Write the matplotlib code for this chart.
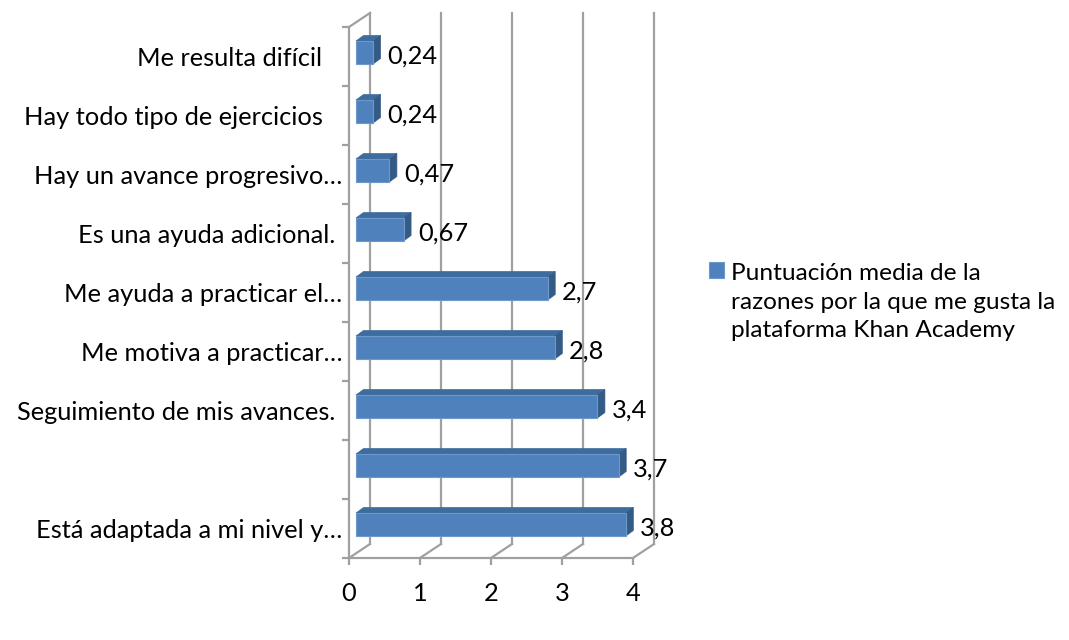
import matplotlib
matplotlib.use("Agg")
import matplotlib.pyplot as plt
from matplotlib.patches import Polygon
import numpy as np

# datos (de abajo hacia arriba)
categorias = [
    "Está adaptada a mi nivel y…",
    "",
    "Seguimiento de mis avances. ",
    "Me motiva a practicar…",
    "Me ayuda a practicar el…",
    "Es una ayuda adicional. ",
    "Hay un avance progresivo…",
    "Hay todo tipo de ejercicios   ",
    "Me resulta difícil   ",
]
valores = [3.8, 3.7, 3.4, 2.8, 2.7, 0.67, 0.47, 0.24, 0.24]
etiquetas = ["3,8", "3,7", "3,4", "2,8", "2,7", "0,67", "0,47", "0,24", "0,24"]
serie = "Puntuación media de la\nrazones por la que me gusta la\nplataforma Khan Academy"
xticks = [0, 1, 2, 3, 4]

plt.rcParams['font.family'] = ['Lato', 'DejaVu Sans']
fs = 18.3

W, H = 1069, 640
fig = plt.figure(figsize=(W / 100, H / 100), dpi=100)
ax = fig.add_axes([349 / W, 82 / H, 284 / W, 531 / H])
ax.set_xlim(0, 4)
ax.set_ylim(-0.5, 8.5)

px_x = 284 / 4.0   # pixeles por unidad
px_y = 531 / 9.0   # pixeles por categoria

# profundidad de las paredes y de las barras
DX, DY = 21 / px_x, 14 / px_y
bx0, by0 = 7 / px_x, 4 / px_y
bdx, bdy = 7.5 / px_x, 5.5 / px_y
alto = 23 / px_y

gris = '#A0A0A0'
lw = 1.6
ymin, ymax = -0.5, 8.5

# pared del fondo y suelo
for k in xticks:
    ax.plot([k + DX, k + DX], [ymin + DY, ymax + DY], color=gris, lw=lw, clip_on=False, zorder=1)
    ax.plot([k, k + DX], [ymin, ymin + DY], color=gris, lw=lw, clip_on=False, zorder=1)
ax.plot([0, 4], [ymin, ymin], color=gris, lw=lw, clip_on=False, zorder=1)
ax.plot([0, 0], [ymin, ymax], color=gris, lw=lw, clip_on=False, zorder=1)
ax.plot([0, DX], [ymax, ymax + DY], color=gris, lw=lw, clip_on=False, zorder=1)

# barras
ypos = np.arange(len(valores))
frente = '#4F81BD'
arriba = '#3F6C9F'
lado = '#345A86'
barras = ax.barh(ypos + by0, valores, left=bx0, height=alto, color=frente,
                 edgecolor='#6C98CC', linewidth=0.8, zorder=3,
                 label=serie, clip_on=False)
for y, v in zip(ypos, valores):
    x1 = bx0 + v
    yb = y + by0 - alto / 2
    yt = y + by0 + alto / 2
    tapa = Polygon([(bx0, yt), (x1, yt), (x1 + bdx, yt + bdy), (bx0 + bdx, yt + bdy)],
                   closed=True, facecolor=arriba, edgecolor=arriba, lw=0.5, zorder=2.5, clip_on=False)
    costado = Polygon([(x1, yb), (x1 + bdx, yb + bdy), (x1 + bdx, yt + bdy), (x1, yt)],
                      closed=True, facecolor=lado, edgecolor=lado, lw=0.5, zorder=2.6, clip_on=False)
    ax.add_patch(tapa)
    ax.add_patch(costado)

for y, v, t in zip(ypos, valores, etiquetas):
    ax.annotate(t, (bx0 + v + bdx, y), xytext=(5, 0), textcoords='offset points',
                va='center', ha='left', fontsize=fs)

for s in ax.spines.values():
    s.set_visible(False)

ax.set_xticks(xticks)
ax.set_xticklabels([str(k) for k in xticks], fontsize=fs)
ax.tick_params(axis='x', length=5, width=lw, color=gris, pad=12)

ax.set_yticks(ypos)
ax.set_yticklabels(categorias, fontsize=fs)
ax.set_yticks(np.arange(ymin, ymax + 1), minor=True)
ax.tick_params(axis='y', which='major', length=0, pad=5)
ax.tick_params(axis='y', which='minor', length=5, width=lw, color=gris)

leg = fig.legend(handles=[barras], loc='upper left', bbox_to_anchor=(692 / W, 1 - 246 / H),
                 frameon=False, fontsize=17.6, handlelength=0.6, handleheight=0.6,
                 handletextpad=0.3, borderpad=0.2)
leg.get_texts()[0].set_linespacing(1.45)
# el cuadrado va junto a la primera linea, como en Excel
fig.canvas.draw()
h = leg.legend_handles[0]
h.set_y(h.get_y() + 23)

fig.savefig('out.png', dpi=100)
